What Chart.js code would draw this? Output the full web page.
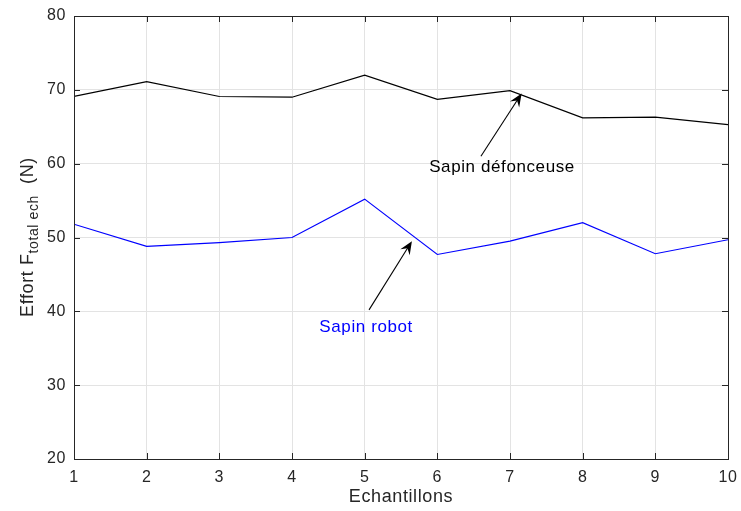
<!DOCTYPE html>
<html>
<head>
<meta charset="utf-8">
<style>
  html, body { margin: 0; padding: 0; background: #fff; }
  #wrap { width: 741px; height: 511px; }
</style>
<script src="https://cdn.jsdelivr.net/npm/chart.js@4/dist/chart.umd.min.js"></script>
</head>
<body>
<div id="wrap"><canvas id="effortChart"></canvas></div>
<script>
// samples 1..10
const samples = [1, 2, 3, 4, 5, 6, 7, 8, 9, 10];
const defonceuse = [69.1, 71.1, 69.1, 69.0, 72.0, 68.7, 69.9, 66.2, 66.3, 65.3];
const robot = [51.8, 48.8, 49.3, 50.0, 55.2, 47.7, 49.5, 52.0, 47.8, 49.7];
const yTicks = [20, 30, 40, 50, 60, 70, 80];

// text arrows, in data units
const notes = [
    { text: 'Sapin défonceuse', color: '#000', tx: 6.89, ty: 59.45, from: [6.60, 61.0], to: [7.16, 69.5] },
    { text: 'Sapin robot', color: '#0000ff', tx: 5.02, ty: 37.8, from: [5.06, 40.2], to: [5.65, 49.5] }
];

const FONT = '"Liberation Sans", Arial, Helvetica, sans-serif';
const SPACING = '0.6px';
const toPoints = ys => samples.map((x, i) => ({ x, y: ys[i] }));

// slightly wider letter spacing for all canvas text
const spacing = {
    id: 'spacing',
    beforeInit(chart) { chart.ctx.letterSpacing = SPACING; },
    beforeLayout(chart) { chart.ctx.letterSpacing = SPACING; },
    beforeDraw(chart) { chart.ctx.letterSpacing = SPACING; }
};

// box outline, inward ticks, y title and arrows
const matlabAxes = {
    id: 'matlabAxes',
    afterDraw(chart) {
        const { ctx, chartArea: a, scales: { x, y } } = chart;
        ctx.save();
        ctx.strokeStyle = '#262626';
        ctx.lineWidth = 1;
        ctx.beginPath();
        samples.forEach(v => {
            const px = Math.round(x.getPixelForValue(v)) + 0.5;
            ctx.moveTo(px, a.bottom); ctx.lineTo(px, a.bottom - 6);
            ctx.moveTo(px, a.top); ctx.lineTo(px, a.top + 6);
        });
        yTicks.forEach(v => {
            const py = Math.round(y.getPixelForValue(v)) + 0.5;
            ctx.moveTo(a.left, py); ctx.lineTo(a.left + 6, py);
            ctx.moveTo(a.right, py); ctx.lineTo(a.right - 6, py);
        });
        ctx.stroke();
        ctx.strokeRect(Math.round(a.left) + 0.5, Math.round(a.top) + 0.5,
            Math.round(a.right - a.left), Math.round(a.bottom - a.top));

        // y title with subscript
        ctx.translate(27, 237);
        ctx.rotate(-Math.PI / 2);
        ctx.fillStyle = '#262626';
        ctx.textBaseline = 'alphabetic';
        const big = '18px ' + FONT, small = '14px ' + FONT;
        const parts = [['Effort F', big, 0], ['total ech', small, 5], ['  (N)', big, 0]];
        let w = 0;
        parts.forEach(p => { ctx.font = p[1]; w += ctx.measureText(p[0]).width; });
        let cx = -w / 2;
        parts.forEach(p => {
            ctx.font = p[1];
            ctx.fillText(p[0], cx, 6 + p[2]);
            cx += ctx.measureText(p[0]).width;
        });
        ctx.restore();

        // annotations
        ctx.save();
        notes.forEach(n => {
            const x0 = x.getPixelForValue(n.from[0]), y0 = y.getPixelForValue(n.from[1]);
            const x1 = x.getPixelForValue(n.to[0]), y1 = y.getPixelForValue(n.to[1]);
            const ang = Math.atan2(y1 - y0, x1 - x0);
            ctx.strokeStyle = '#000';
            ctx.fillStyle = '#000';
            ctx.lineWidth = 1.1;
            ctx.beginPath();
            ctx.moveTo(x0, y0);
            ctx.lineTo(x1 - 6 * Math.cos(ang), y1 - 6 * Math.sin(ang));
            ctx.stroke();
            const L = 13, W = 5.5;
            const bx = x1 - L * Math.cos(ang), by = y1 - L * Math.sin(ang);
            ctx.beginPath();
            ctx.moveTo(x1, y1);
            ctx.lineTo(bx + W * Math.sin(ang), by - W * Math.cos(ang));
            ctx.lineTo(x1 - 0.65 * L * Math.cos(ang), y1 - 0.65 * L * Math.sin(ang));
            ctx.lineTo(bx - W * Math.sin(ang), by + W * Math.cos(ang));
            ctx.closePath();
            ctx.fill();

            ctx.font = '17px ' + FONT;
            ctx.fillStyle = n.color;
            ctx.textAlign = 'center';
            ctx.textBaseline = 'middle';
            ctx.fillText(n.text, x.getPixelForValue(n.tx), y.getPixelForValue(n.ty));
        });
        ctx.restore();
    }
};

new Chart(document.getElementById('effortChart'), {
    type: 'line',
    data: {
        datasets: [{
            label: 'Sapin défonceuse',
            data: toPoints(defonceuse),
            borderColor: '#000000',
            borderWidth: 1.2,
            pointRadius: 0,
            tension: 0
        }, {
            label: 'Sapin robot',
            data: toPoints(robot),
            borderColor: '#0000ff',
            borderWidth: 1.2,
            pointRadius: 0,
            tension: 0
        }]
    },
    options: {
        responsive: true,
        maintainAspectRatio: false,
        animation: false,
        layout: { padding: { left: 0, right: 13, top: 16, bottom: 0 } },
        plugins: {
            legend: { display: false },
            tooltip: { enabled: false }
        },
        scales: {
            x: {
                type: 'linear',
                min: 1,
                max: 10,
                afterBuildTicks: s => { s.ticks = samples.map(v => ({ value: v })); },
                afterFit: s => { s.height = 52; s.paddingLeft = 0; s.paddingRight = 0; },
                border: { display: false },
                grid: { color: '#e3e3e3', lineWidth: 1, drawTicks: false },
                ticks: {
                    padding: 9,
                    color: '#262626',
                    font: { family: FONT, size: 16 },
                    maxRotation: 0
                },
                title: {
                    display: true,
                    text: 'Echantillons',
                    color: '#262626',
                    padding: { top: 0, bottom: 3 },
                    font: { family: FONT, size: 18 }
                }
            },
            y: {
                min: 20,
                max: 80,
                afterBuildTicks: s => { s.ticks = yTicks.map(v => ({ value: v })); },
                afterFit: s => { s.width = 74; s.paddingTop = 0; s.paddingBottom = 0; },
                border: { display: false },
                grid: { color: '#e3e3e3', lineWidth: 1, drawTicks: false },
                ticks: {
                    padding: 8,
                    color: '#262626',
                    font: { family: FONT, size: 16 }
                }
            }
        }
    },
    plugins: [spacing, matlabAxes]
});
</script>
</body>
</html>
